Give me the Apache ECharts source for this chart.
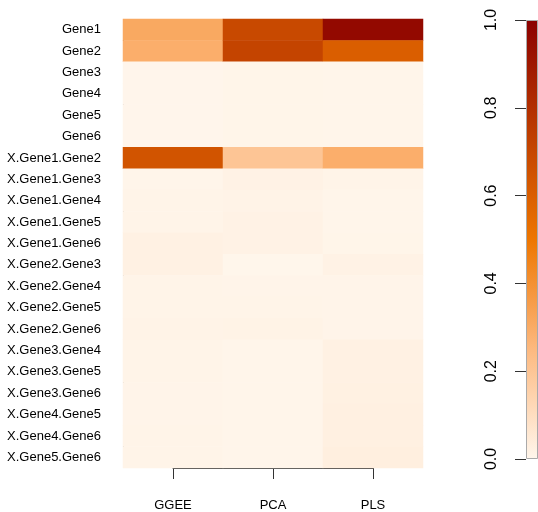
<!DOCTYPE html>
<html>
<head>
<meta charset="utf-8">
<script src="https://cdn.jsdelivr.net/npm/echarts@6/dist/echarts.min.js"></script>
<style>
html,body{margin:0;padding:0;background:#fff;}
#c{width:538px;height:512px;}
</style>
</head>
<body>
<div id="c"></div>
<script>
const methods = ['GGEE', 'PCA', 'PLS'];
const features = ['Gene1','Gene2','Gene3','Gene4','Gene5','Gene6',
  'X.Gene1.Gene2','X.Gene1.Gene3','X.Gene1.Gene4','X.Gene1.Gene5','X.Gene1.Gene6',
  'X.Gene2.Gene3','X.Gene2.Gene4','X.Gene2.Gene5','X.Gene2.Gene6',
  'X.Gene3.Gene4','X.Gene3.Gene5','X.Gene3.Gene6',
  'X.Gene4.Gene5','X.Gene4.Gene6','X.Gene5.Gene6'];
const ggee = [0.31,0.29,0.003,0.003,0.003,0.003,0.645,0.005,0.01,0.01,0.02,0.02,0.01,0.01,0.012,0.01,0.01,0.008,0.008,0.01,0.01];
const pca  = [0.69,0.71,0.006,0.006,0.006,0.006,0.20,0.015,0.012,0.015,0.015,0.002,0.008,0.01,0.014,0.005,0.005,0.005,0.005,0.005,0.005];
const pls  = [0.96,0.60,0.004,0.004,0.004,0.004,0.29,0.01,0.005,0.005,0.006,0.015,0.008,0.008,0.008,0.02,0.02,0.022,0.025,0.025,0.03];
const colorbarTicks = [0, 0.2, 0.4, 0.6, 0.8, 1.0];
</script>
<script>
const rows = features;
const cols = [ggee, pca, pls];
const data = [];
cols.forEach((arr, xi) => arr.forEach((v, yi) => data.push([xi, yi, v])));
const font = 'Liberation Sans, Arial, Helvetica, sans-serif';
const palette = ['#FFF6EC', '#FDB97F', '#EE7600', '#BC3B00', '#8B0000'];
const chart = echarts.init(document.getElementById('c'));
const nRows = rows.length;
const top0 = 19, h0 = 449;
const rowH = h0 / nRows;
chart.setOption({
  animation: false,
  backgroundColor: '#fff',
  textStyle: {fontFamily: font},
  grid: [
    {left: 123, top: top0, width: 300, height: h0},
    {left: 123, top: top0 + rowH/2, width: 300, height: h0 - rowH},
    {left: 173, top: top0, width: 200, height: h0 + 0.5},
    {left: 526, top: 20, width: 30, height: 439}
  ],
  visualMap: {
    show: false, seriesIndex: 0, min: 0, max: 1, calculable: false,
    inRange: {color: palette}
  },
  xAxis: [
    {gridIndex: 0, type: 'category', data: methods, show: false},
    {gridIndex: 1, type: 'category', data: ['a'], show: false},
    {gridIndex: 2, type: 'category', data: methods, boundaryGap: false, position: 'bottom',
     axisLine: {lineStyle: {color: '#333', width: 1}},
     axisTick: {length: 11, interval: 0, lineStyle: {color: '#333'}},
     axisLabel: {margin: 31, fontSize: 13, color: '#000', fontFamily: font, interval: 0}},
    {gridIndex: 3, type: 'category', data: [''], show: false}
  ],
  yAxis: [
    {gridIndex: 0, type: 'category', data: rows, inverse: true, show: false},
    {gridIndex: 1, type: 'category', data: rows, inverse: true, boundaryGap: false,
     axisLine: {lineStyle: {color: '#333', width: 1}},
     axisTick: {length: 12, interval: 0, lineStyle: {color: '#333'}},
     axisLabel: {margin: 22, fontSize: 13, color: '#000', fontFamily: font, interval: 0},
     splitLine: {show: false}},
    {gridIndex: 2, type: 'value', show: false},
    {gridIndex: 3, type: 'value', min: colorbarTicks[0], max: colorbarTicks[colorbarTicks.length-1], interval: 0.2,
     axisLine: {show: false},
     axisTick: {show: true, length: 11, lineStyle: {color: '#333'}},
     axisLabel: {rotate: 90, margin: 26, fontSize: 16, color: '#000', fontFamily: font,
       formatter: v => v.toFixed(1)},
     splitLine: {show: false}}
  ],
  series: [
    {type: 'heatmap', xAxisIndex: 0, yAxisIndex: 0, data: data, itemStyle: {borderWidth: 0}, emphasis: {disabled: true}},
    {type: 'bar', xAxisIndex: 3, yAxisIndex: 3, data: [1], barWidth: '100%',
     itemStyle: {
       color: new echarts.graphic.LinearGradient(0, 0, 0, 1,
         palette.slice().reverse().map((c, i) => ({offset: i / (palette.length - 1), color: c}))),
       borderColor: '#aaa', borderWidth: 1
     }}
  ]
});
</script>
</body>
</html>
